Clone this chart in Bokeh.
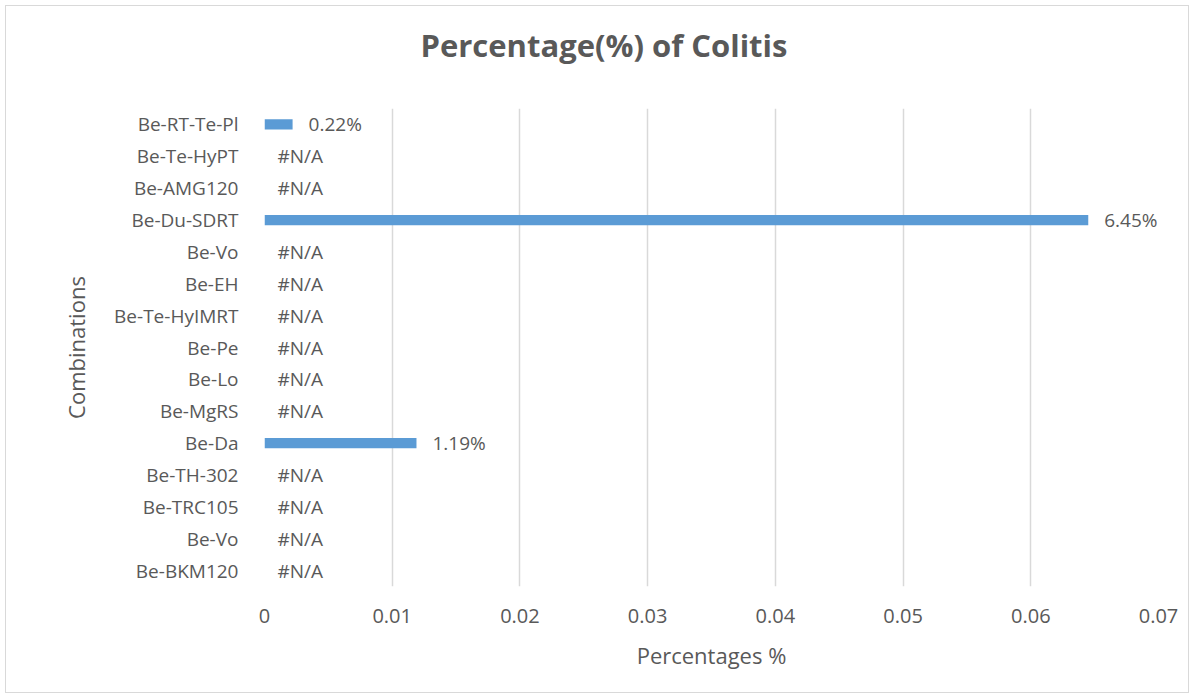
from bokeh.plotting import figure
from bokeh.models import ColumnDataSource, FixedTicker, InlineStyleSheet, Title
from bokeh.core.properties import value
from bokeh.embed import file_html
from bokeh.resources import INLINE
import math

# Combinations listed bottom to top
combinations = ["Be-BKM120", "Be-Vo", "Be-TRC105", "Be-TH-302", "Be-Da", "Be-MgRS",
                "Be-Lo", "Be-Pe", "Be-Te-HyIMRT", "Be-EH", "Be-Vo", "Be-Du-SDRT",
                "Be-AMG120", "Be-Te-HyPT", "Be-RT-Te-Pl"]
nan = float("nan")
colitis_pct = [nan, nan, nan, nan, 0.0119, nan, nan, nan, nan, nan, nan, 0.0645,
               nan, nan, 0.0022]
x_ticks = [0, 0.01, 0.02, 0.03, 0.04, 0.05, 0.06, 0.07]
chart_title = "Percentage(%)  of Colitis"

FONT = "Open Sans"
GREY = "#595959"

pos = list(range(len(combinations)))
has_val = [not math.isnan(v) for v in colitis_pct]
bar_src = ColumnDataSource(dict(
    y=[p for p, h in zip(pos, has_val) if h],
    v=[v for v, h in zip(colitis_pct, has_val) if h],
    lbl=[f"{v*100:.2f}%" for v, h in zip(colitis_pct, has_val) if h],
))
na_src = ColumnDataSource(dict(
    y=[p for p, h in zip(pos, has_val) if not h],
    x=[0.0 for h in has_val if not h],
    lbl=["#N/A" for h in has_val if not h],
))

p = figure(width=1194, height=698, output_backend="svg", toolbar_location=None,
           x_range=(0, 0.07), y_range=(-0.5, len(combinations) - 0.5),
           min_border_left=264, min_border_right=36, min_border_top=108,
           min_border_bottom=112)

# thin frame round the whole chart area, drawn above the canvas
p.stylesheets = [InlineStyleSheet(css="""
:host { position: relative; }
:host::after {
  content: ""; position: absolute; left: 5px; top: 5px; right: 5px; bottom: 5px;
  border: 1.5px solid #D9D9D9; pointer-events: none; z-index: 100;
}
""")]

# spacer panel between the plot frame and the title
p.add_layout(Title(text=" ", text_font_size="1px", standoff=40), "above")
p.add_layout(Title(text=chart_title, align="left", offset=156, standoff=0,
                   text_font=FONT, text_font_size="31px", text_font_style="bold",
                   text_color=GREY), "above")

p.hbar(y="y", left=0, right="v", height=0.32, source=bar_src,
       fill_color="#5B9BD5", line_color=None)
p.text(x="v", y="y", text="lbl", source=bar_src, x_offset=16,
       text_baseline="middle", text_font=value(FONT), text_font_size="19px",
       text_color=GREY)
p.text(x="x", y="y", text="lbl", source=na_src, x_offset=13,
       text_baseline="middle", text_font=value(FONT), text_font_size="19px",
       text_color=GREY)

p.outline_line_color = None
p.ygrid.grid_line_color = None
p.xgrid.grid_line_color = "#D9D9D9"
p.xgrid.grid_line_width = 1.5
p.xgrid.ticker = FixedTicker(ticks=x_ticks)

xa = p.xaxis[0]
xa.ticker = FixedTicker(ticks=x_ticks)
xa.major_label_overrides = {0: "0"}
xa.axis_line_color = None
xa.major_tick_line_color = None
xa.minor_tick_line_color = None
xa.major_label_text_font = FONT
xa.major_label_text_font_size = "20px"
xa.major_label_text_color = GREY
xa.major_label_standoff = 16
xa.axis_label = "Percentages %"
xa.axis_label_text_font = FONT
xa.axis_label_text_font_size = "22px"
xa.axis_label_text_font_style = "normal"
xa.axis_label_text_color = GREY
xa.axis_label_standoff = 14

ya = p.yaxis[0]
ya.ticker = FixedTicker(ticks=pos)
ya.major_label_overrides = {i: c for i, c in enumerate(combinations)}
ya.axis_line_color = None
ya.major_tick_line_color = None
ya.minor_tick_line_color = None
ya.major_label_text_font = FONT
ya.major_label_text_font_size = "19px"
ya.major_label_text_color = GREY
ya.major_label_standoff = 20
ya.axis_label = "Combinations"
ya.axis_label_text_font = FONT
ya.axis_label_text_font_size = "22px"
ya.axis_label_text_font_style = "normal"
ya.axis_label_text_color = GREY
ya.axis_label_standoff = 20

open("out.html", "w").write(file_html(p, INLINE))
